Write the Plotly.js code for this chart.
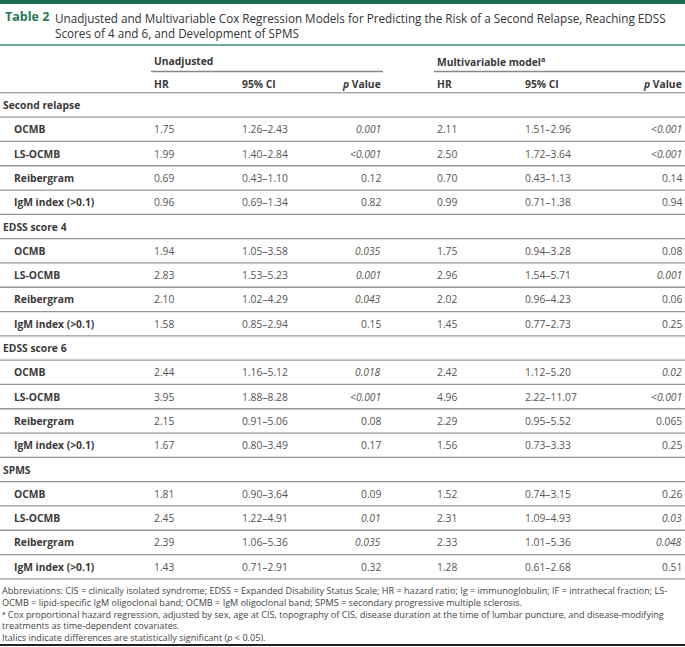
<!DOCTYPE html>
<html>
<head>
<meta charset="utf-8">
<script src="https://cdn.plot.ly/plotly-3.0.1.min.js"></script>
<style>html,body{margin:0;padding:0;background:#fff;}#chart{width:685px;height:647px;}</style>
</head>
<body>
<div id="chart"></div>
<script>
// ---------- data ----------
const groups = ["Second relapse", "EDSS score 4", "EDSS score 6", "SPMS"];
const variables = ["OCMB", "LS-OCMB", "Reibergram", "IgM index (>0.1)"];

const unadjHR = [
  ["1.75", "1.99", "0.69", "0.96"],
  ["1.94", "2.83", "2.10", "1.58"],
  ["2.44", "3.95", "2.15", "1.67"],
  ["1.81", "2.45", "2.39", "1.43"]
];
const unadjCI = [
  ["1.26–2.43", "1.40–2.84", "0.43–1.10", "0.69–1.34"],
  ["1.05–3.58", "1.53–5.23", "1.02–4.29", "0.85–2.94"],
  ["1.16–5.12", "1.88–8.28", "0.91–5.06", "0.80–3.49"],
  ["0.90–3.64", "1.22–4.91", "1.06–5.36", "0.71–2.91"]
];
const unadjP = [
  ["0.001", "<0.001", "0.12", "0.82"],
  ["0.035", "0.001", "0.043", "0.15"],
  ["0.018", "<0.001", "0.08", "0.17"],
  ["0.09", "0.01", "0.035", "0.32"]
];
const multiHR = [
  ["2.11", "2.50", "0.70", "0.99"],
  ["1.75", "2.96", "2.02", "1.45"],
  ["2.42", "4.96", "2.29", "1.56"],
  ["1.52", "2.31", "2.33", "1.28"]
];
const multiCI = [
  ["1.51–2.96", "1.72–3.64", "0.43–1.13", "0.71–1.38"],
  ["0.94–3.28", "1.54–5.71", "0.96–4.23", "0.77–2.73"],
  ["1.12–5.20", "2.22–11.07", "0.95–5.52", "0.73–3.33"],
  ["0.74–3.15", "1.09–4.93", "1.01–5.36", "0.61–2.68"]
];
const multiP = [
  ["<0.001", "<0.001", "0.14", "0.94"],
  ["0.08", "0.001", "0.06", "0.25"],
  ["0.02", "<0.001", "0.065", "0.25"],
  ["0.26", "0.03", "0.048", "0.51"]
];
const headerGroups = ["Unadjusted", "Multivariable model<sup>a</sup>"];
const headerCols = ["HR", "95% CI", "<i>p</i> Value"];

const titleLabel = "Table 2";
const titleText = ["Unadjusted and Multivariable Cox Regression Models for Predicting the Risk of a Second Relapse, Reaching EDSS",
                   "Scores of 4 and 6, and Development of SPMS"];
const footnotes = [
  "Abbreviations: CIS = clinically isolated syndrome; EDSS = Expanded Disability Status Scale; HR = hazard ratio; Ig = immunoglobulin; IF = intrathecal fraction; LS-",
  "OCMB = lipid-specific IgM oligoclonal band; OCMB = IgM oligoclonal band; SPMS = secondary progressive multiple sclerosis.",
  "ᵃ Cox proportional hazard regression, adjusted by sex, age at CIS, topography of CIS, disease duration at the time of lumbar puncture, and disease-modifying",
  "treatments as time-dependent covariates.",
  "Italics indicate differences are statistically significant (<i>p</i> &lt; 0.05)."
];

// ---------- layout constants ----------
const W = 685, H = 647;
const rowH = 24.3;          // px per row
const firstRowPx = 105;     // pixel centre of first body row
const FONT = "Open Sans, Noto Sans, sans-serif";
const textCol = "#3a3a3a";
const numCol = "#555555";
const lineCol = "#979797";
const green = "#1f7a55";
const FS = 10.3;

// x positions (left edges; p columns are right edges)
const xLabel = 1, xSub = 12;
const xHR1 = 152, xCI1 = 240, xP1 = 383;
const xHR2 = 435, xCI2 = 523, xP2 = 684;

const annotations = [];
const shapes = [];
function ann(x, y, text, opts) {
  annotations.push(Object.assign({
    x: x, y: y, xref: "x", yref: "y", text: text, showarrow: false,
    xanchor: "left", yanchor: "middle",
    font: {family: FONT, size: FS, color: numCol}
  }, opts || {}));
}
function hline(y, x0, x1, color, width) {
  shapes.push({type: "line", xref: "x", yref: "y", x0: x0, x1: x1, y0: y, y1: y,
               line: {color: color, width: width}});
}
function isSig(p) { return parseFloat(p.replace("<", "")) < 0.05; }
function pTxt(p) { const t = p.replace("<", "&lt;"); return isSig(p) ? "<i>" + t + "</i>" : t; }
const hdrFont = {family: FONT, size: FS, color: textCol};

// header rows (row units)
const rGroupHdr = -1.8, rColHdr = -0.88;
ann(xHR1, rGroupHdr, "<b>" + headerGroups[0] + "</b>", {font: hdrFont});
ann(xHR2, rGroupHdr, "<b>" + headerGroups[1] + "</b>", {font: hdrFont});
hline(rGroupHdr + 0.42, xHR1 - 1, xP1, "#888", 1.5);
hline(rGroupHdr + 0.42, xHR2 - 1, W, "#888", 1.5);
[[xHR1, xCI1, xP1], [xHR2, xCI2, xP2]].forEach(function (xs) {
  ann(xs[0], rColHdr, "<b>" + headerCols[0] + "</b>", {font: hdrFont});
  ann(xs[1], rColHdr, "<b>" + headerCols[1] + "</b>", {font: hdrFont});
  ann(xs[2], rColHdr, "<b>" + headerCols[2] + "</b>", {xanchor: "right", font: hdrFont});
});
hline(-0.5, 0, W, "#aaa", 1.5);

// body
let r = 0;
groups.forEach(function (g, gi) {
  ann(xLabel, r, "<b>" + g + "</b>", {font: hdrFont});
  hline(r + 0.5, 0, W, lineCol, 1.3);
  r++;
  variables.forEach(function (v, vi) {
    ann(xSub, r, "<b>" + v + "</b>", {font: hdrFont});
    ann(xHR1, r, unadjHR[gi][vi]);
    ann(xCI1, r, unadjCI[gi][vi]);
    ann(xP1, r, pTxt(unadjP[gi][vi]), {xanchor: "right"});
    ann(xHR2, r, multiHR[gi][vi]);
    ann(xCI2, r, multiCI[gi][vi]);
    ann(xP2, r, pTxt(multiP[gi][vi]), {xanchor: "right"});
    hline(r + 0.5, 0, W, lineCol, 1.3);
    r++;
  });
});

// title (paper coords)
annotations.push({xref: "paper", yref: "paper", x: 3 / W, y: 1 - 16 / H, xanchor: "left", yanchor: "middle",
  showarrow: false, text: "<b>" + titleLabel + "</b>", font: {family: FONT, size: 12.5, color: green}});
annotations.push({xref: "paper", yref: "paper", x: 53 / W, y: 1 - 8 / H, xanchor: "left", yanchor: "top",
  align: "left", showarrow: false, text: titleText.join("<br>"), font: {family: FONT, size: 11.7, color: "#333"}});

// footnotes (one block)
annotations.push({xref: "paper", yref: "paper", x: 0, y: 1 - 582 / H, xanchor: "left", yanchor: "top",
  align: "left", showarrow: false, text: footnotes.join("<br>"), font: {family: FONT, size: 9.1, color: "#444"}});

// top bar, green rule, bottom rule (paper coords)
shapes.push({type: "rect", xref: "paper", yref: "paper", x0: 0, x1: 1, y0: 1, y1: 1 - 4 / H,
  fillcolor: "#1d6b4f", line: {width: 0}});
shapes.push({type: "line", xref: "paper", yref: "paper", x0: 0, x1: 1, y0: 1 - 45 / H, y1: 1 - 45 / H,
  line: {color: "#6faa8c", width: 2}});
shapes.push({type: "line", xref: "paper", yref: "paper", x0: 0, x1: 1, y0: 1 - 645 / H, y1: 1 - 645 / H,
  line: {color: "#222", width: 2}});

const yTop = -firstRowPx / rowH;
const yBot = (H - firstRowPx) / rowH;

const layout = {
  width: W, height: H,
  margin: {l: 0, r: 0, t: 0, b: 0, pad: 0},
  paper_bgcolor: "#fff", plot_bgcolor: "#fff",
  xaxis: {range: [0, W], visible: false, fixedrange: true},
  yaxis: {range: [yBot, yTop], visible: false, fixedrange: true},
  showlegend: false,
  annotations: annotations,
  shapes: shapes
};
Plotly.newPlot("chart", [{type: "scatter", x: [], y: [], hoverinfo: "skip"}], layout, {staticPlot: true, displayModeBar: false});
</script>
</body>
</html>
